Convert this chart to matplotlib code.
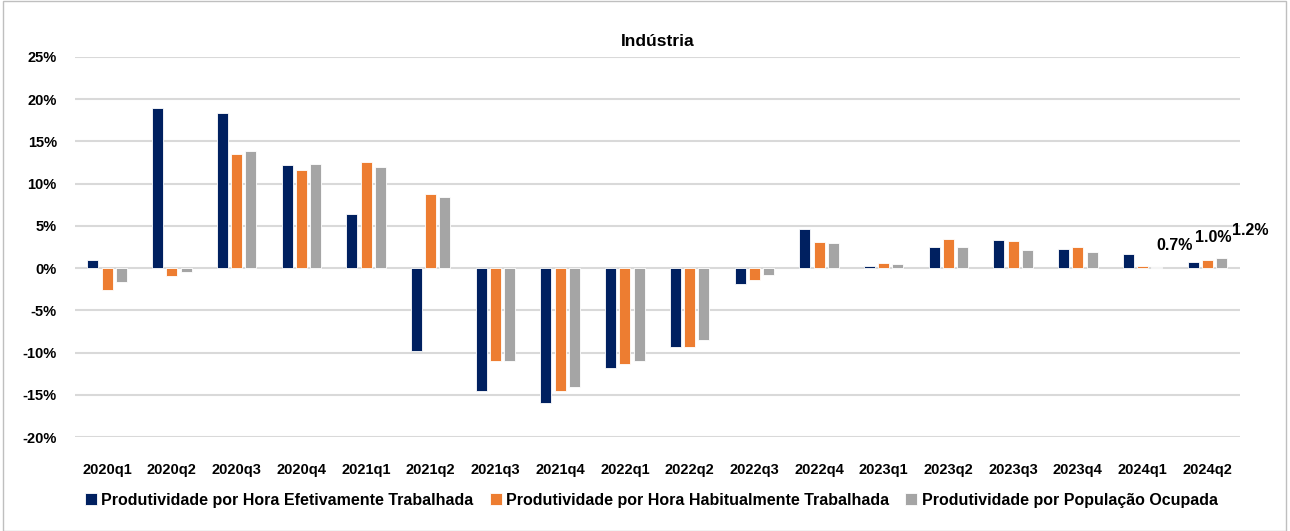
import numpy as np
import matplotlib
matplotlib.use("Agg")
import matplotlib.pyplot as plt
from matplotlib.patches import Rectangle

plt.rcParams['font.family'] = ['Liberation Sans', 'DejaVu Sans']
plt.rcParams['font.weight'] = 'bold'

quarters = ["2020q1", "2020q2", "2020q3", "2020q4", "2021q1", "2021q2", "2021q3", "2021q4",
            "2022q1", "2022q2", "2022q3", "2022q4", "2023q1", "2023q2", "2023q3", "2023q4",
            "2024q1", "2024q2"]
efetiva = [1.0, 18.9, 18.4, 12.2, 6.4, -9.8, -14.6, -16.0, -11.8, -9.4, -1.9, 4.6,
           0.2, 2.5, 3.3, 2.2, 1.7, 0.7]
habitual = [-2.6, -1.0, 13.5, 11.6, 12.6, 8.8, -11.0, -14.5, -11.4, -9.3, -1.4, 3.1,
            0.6, 3.4, 3.2, 2.5, 0.2, 1.0]
ocupada = [-1.7, -0.5, 13.9, 12.3, 11.9, 8.4, -11.0, -14.1, -11.0, -8.5, -0.8, 3.0,
           0.5, 2.5, 2.1, 1.9, 0.1, 1.2]
names = ["Produtividade por Hora Efetivamente Trabalhada",
         "Produtividade por Hora Habitualmente Trabalhada",
         "Produtividade por População Ocupada"]
colors = ["#002060", "#ED7D31", "#A5A5A5"]

fig = plt.figure(figsize=(12.9, 5.31), dpi=100)
ax = fig.add_axes([0.058, 0.177, 0.903, 0.716])

x = np.arange(len(quarters))
w = 0.17
step = 0.22
for i, (vals, name, c) in enumerate(zip([efetiva, habitual, ocupada], names, colors)):
    ax.bar(x + (i - 1) * step, vals, w, color=c, edgecolor="white", linewidth=0.6,
           label=name, zorder=3)

# data labels on last quarter
last = len(quarters) - 1
offsets = [(-13, 12), (4, 16), (21, 19.5)]
for i, vals in enumerate([efetiva, habitual, ocupada]):
    ax.annotate(f"{vals[last]:.1f}%", (x[last] + (i - 1) * step, vals[last]),
                xytext=offsets[i], textcoords="offset points", ha="center", va="center",
                fontsize=11.5, fontweight="bold")

ax.set_xlim(-0.5, len(quarters) - 0.5)
ax.set_ylim(-20, 25)
ax.set_yticks(np.arange(-20, 26, 5))
ax.set_yticklabels([f"{v}%" for v in range(-20, 26, 5)], fontsize=10.5, fontweight="bold")
ax.set_xticks(x)
ax.set_xticklabels(quarters, fontsize=10.5, fontweight="bold")
ax.tick_params(axis="both", length=0)
ax.tick_params(axis="y", pad=13)
ax.tick_params(axis="x", pad=19)
ax.grid(axis="y", color="#D9D9D9", linewidth=1.5, zorder=0)
for s in ax.spines.values():
    s.set_visible(False)

ax.set_title("Indústria", fontsize=12.5, fontweight="bold", pad=8)

fig.legend(loc="center", bbox_to_anchor=(0.505, 0.058), ncol=3, frameon=False,
           handlelength=0.75, handleheight=0.75, handletextpad=0.3,
           columnspacing=1.0, prop={'weight': 'bold', 'size': 11.5})

fig.add_artist(Rectangle((0.002, 0.0), 0.995, 0.998, transform=fig.transFigure,
                         fill=False, edgecolor="#BFBFBF", linewidth=1))

fig.savefig("out.png", dpi=100)
